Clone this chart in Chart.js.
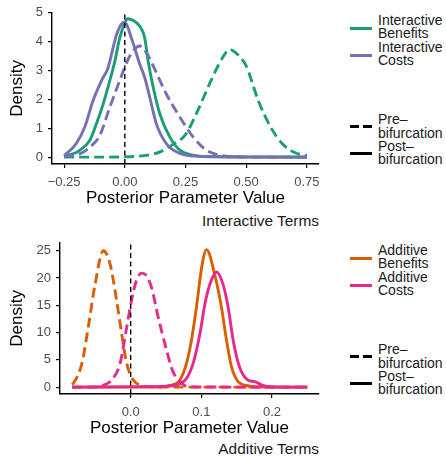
<!DOCTYPE html>
<html>
<head>
<meta charset="utf-8">
<script src="https://cdn.jsdelivr.net/npm/chart.js@4"></script>
<style>
  html, body { margin: 0; padding: 0; background: #fff; }
  body { width: 446px; height: 458px; position: relative; overflow: hidden; font-family: 'Liberation Sans', Arial, Helvetica, sans-serif; }
  .panel { position: absolute; left: 0; }
  .cap { position: absolute; left: 0; width: 319px; text-align: right; font-size: 15.4px; line-height: 18px; color: #1a1a1a; }
  .lt { position: absolute; left: 378px; font-size: 14px; line-height: 13.3px; color: #1a1a1a; white-space: nowrap; }
  .key { position: absolute; left: 350px; width: 22px; height: 3px; }
  .dash { background: repeating-linear-gradient(90deg, #000 0 9px, transparent 9px 13px); }
</style>
</head>
<body>
<div class="panel" style="top:0"><canvas id="c1" width="330" height="209"></canvas></div>
<div class="panel" style="top:230px"><canvas id="c2" width="330" height="209"></canvas></div>

<div class="cap" style="top:211.5px">Interactive Terms</div>
<div class="cap" style="top:439.5px">Additive Terms</div>

<!-- top legend -->
<div class="key" style="top:26.5px;background:#1B9E77"></div>
<div class="lt" style="top:14px">Interactive<br>Benefits</div>
<div class="key" style="top:54px;background:#7570B3"></div>
<div class="lt" style="top:40.7px">Interactive<br>Costs</div>
<div class="key dash" style="top:125px"></div>
<div class="lt" style="top:113.3px">Pre–<br>bifurcation</div>
<div class="key" style="top:152px;background:#000"></div>
<div class="lt" style="top:140px">Post–<br>bifurcation</div>

<!-- bottom legend -->
<div class="key" style="top:256.5px;background:#D95F02"></div>
<div class="lt" style="top:244px">Additive<br>Benefits</div>
<div class="key" style="top:284px;background:#E7298A"></div>
<div class="lt" style="top:270.7px">Additive<br>Costs</div>
<div class="key dash" style="top:355px"></div>
<div class="lt" style="top:343.3px">Pre–<br>bifurcation</div>
<div class="key" style="top:382px;background:#000"></div>
<div class="lt" style="top:370px">Post–<br>bifurcation</div>

<script>
// ---------- Interactive terms (top panel) ----------
const intXTicks = [-0.25, 0, 0.25, 0.5, 0.75];
const intYTicks = [0, 1, 2, 3, 4, 5];

const intBenPostX = [-0.25, -0.2, -0.185, -0.144, -0.117, -0.089, -0.062, -0.041, -0.021, 0.0, 0.012, 0.035, 0.062, 0.082, 0.096, 0.117, 0.144, 0.185, 0.227, 0.28, 0.35, 0.5, 0.75];
const intBenPostY = [0.03, 0.16, 0.24, 0.58, 1.15, 1.84, 2.64, 3.32, 4.12, 4.63, 4.78, 4.72, 4.52, 4.12, 3.32, 2.41, 1.5, 0.7, 0.24, 0.07, 0.02, 0.01, 0.0];

const intBenPreX = [-0.25, -0.1, 0.0, 0.1, 0.15, 0.2, 0.25, 0.3, 0.35, 0.4, 0.432, 0.47, 0.5, 0.55, 0.6, 0.65, 0.7, 0.75];
const intBenPreY = [0.0, 0.0, 0.01, 0.08, 0.2, 0.45, 0.78, 1.6, 2.55, 3.4, 3.72, 3.5, 3.15, 1.95, 1.05, 0.45, 0.16, 0.05];

const intCostPostX = [-0.25, -0.2, -0.165, -0.131, -0.096, -0.069, -0.055, -0.034, -0.014, 0.0, 0.027, 0.062, 0.082, 0.103, 0.13, 0.171, 0.227, 0.3, 0.4, 0.5, 0.75];
const intCostPostY = [0.05, 0.47, 1.04, 1.95, 2.64, 3.09, 3.55, 4.24, 4.6, 4.66, 4.12, 3.2, 2.75, 2.06, 1.15, 0.47, 0.13, 0.03, 0.01, 0.0, 0.0];

const intCostPreX = [-0.25, -0.2, -0.17, -0.13, -0.103, -0.062, -0.021, 0.021, 0.062, 0.09, 0.117, 0.171, 0.227, 0.281, 0.336, 0.391, 0.45, 0.55, 0.75];
const intCostPreY = [0.02, 0.08, 0.18, 0.45, 0.75, 1.72, 2.65, 3.5, 3.84, 3.6, 3.15, 2.18, 1.38, 0.7, 0.24, 0.07, 0.02, 0.0, 0.0];

// ---------- Additive terms (bottom panel) ----------
const addXTicks = [0, 0.1, 0.2];
const addYTicks = [0, 5, 10, 15, 20, 25];

const addBenPreX = [-0.083, -0.081, -0.069, -0.06, -0.0504, -0.0387, -0.029, -0.0198, -0.0127, -0.0056, 0.0037, 0.013, 0.03, 0.1, 0.25];
const addBenPreY = [0.5, 0.7, 4.35, 11.0, 18.8, 25.0, 22.5, 15.8, 9.8, 4.35, 1.3, 0.4, 0.05, 0.0, 0.0];

const addCostPreX = [-0.083, -0.05, -0.039, -0.027, -0.015, -0.0056, 0.0014, 0.008, 0.0155, 0.022, 0.0297, 0.039, 0.0508, 0.06, 0.0696, 0.079, 0.1, 0.25];
const addCostPreY = [0.0, 0.02, 0.3, 1.3, 4.35, 11.0, 16.0, 19.5, 20.9, 20.5, 18.2, 12.8, 6.8, 2.8, 1.1, 0.15, 0.02, 0.0];

const addBenPostX = [-0.083, 0.03, 0.055, 0.0696, 0.079, 0.086, 0.093, 0.1003, 0.1073, 0.119, 0.1285, 0.1356, 0.1427, 0.152, 0.164, 0.18, 0.25];
const addBenPostY = [0.0, 0.02, 0.3, 1.3, 4.35, 8.6, 14.6, 21.8, 25.2, 20.6, 14.6, 8.6, 3.7, 1.0, 0.3, 0.05, 0.0];

const addCostPostX = [-0.083, 0.041, 0.065, 0.079, 0.0884, 0.098, 0.105, 0.112, 0.1214, 0.1308, 0.138, 0.145, 0.154, 0.166, 0.1756, 0.187, 0.2, 0.25];
const addCostPostY = [0.0, 0.1, 0.4, 1.6, 4.35, 9.8, 15.2, 18.8, 21.1, 18.8, 14.6, 8.6, 3.7, 1.3, 1.0, 0.3, 0.05, 0.0];

const vlineX = [0, 0];

// ---------- helpers ----------
const zip = (xs, ys) => xs.map((x, i) => ({ x: x, y: ys[i] }));
const FONT = "'Liberation Sans', Arial, Helvetica, sans-serif";
Chart.defaults.font.family = FONT;

function curve(xs, ys, color, dashed) {
  return {
    data: zip(xs, ys), borderColor: color, borderWidth: 2.9,
    borderDash: dashed ? [10, 5] : [], pointRadius: 0,
    cubicInterpolationMode: 'monotone', fill: false
  };
}

function panel(id, curves, xr, xTicks, xFmt, yr, yTicks, yW) {
  const vline = {
    data: zip(vlineX, [yr[0], yr[1]]), borderColor: '#000', borderWidth: 1.4,
    borderDash: [5, 3.5], pointRadius: 0, fill: false
  };
  new Chart(document.getElementById(id), {
    type: 'line',
    data: { datasets: [vline].concat(curves) },
    options: {
      responsive: false, animation: false, devicePixelRatio: 1,
      layout: { padding: { left: 0, top: 11.5, right: 11, bottom: 0 } },
      plugins: { legend: { display: false }, tooltip: { enabled: false } },
      scales: {
        x: {
          type: 'linear', min: xr[0], max: xr[1],
          afterBuildTicks: s => { s.ticks = xTicks.map(v => ({ value: v })); },
          afterFit: s => { s.height = 45; },
          ticks: { callback: xFmt, color: '#4D4D4D', font: { size: 13 }, padding: 7, maxRotation: 0, autoSkip: false },
          grid: { display: true, drawOnChartArea: false, drawTicks: true, tickLength: 4, color: '#000', lineWidth: 1.2 },
          border: { display: true, color: '#000', width: 1.4 },
          title: { display: true, text: 'Posterior Parameter Value', color: '#000', font: { size: 17 }, padding: { top: 0, bottom: 0 } }
        },
        y: {
          type: 'linear', min: yr[0], max: yr[1],
          afterBuildTicks: s => { s.ticks = yTicks.map(v => ({ value: v })); },
          afterFit: s => { s.width = yW; },
          ticks: { callback: v => String(v), color: '#4D4D4D', font: { size: 13 }, padding: 5, autoSkip: false },
          grid: { display: true, drawOnChartArea: false, drawTicks: true, tickLength: 4, color: '#000', lineWidth: 1.2 },
          border: { display: true, color: '#000', width: 1.4 },
          title: { display: true, text: 'Density', color: '#000', font: { size: 17 }, padding: { top: 7, bottom: 0 } }
        }
      }
    }
  });
}

const fmt2 = v => (v < 0 ? '\u2212' : '') + Math.abs(v).toFixed(2);
const fmt1 = v => (v < 0 ? '\u2212' : '') + Math.abs(v).toFixed(1);

panel('c1', [
  curve(intCostPostX, intCostPostY, '#7570B3', false),
  curve(intCostPreX, intCostPreY, '#7570B3', true),
  curve(intBenPostX, intBenPostY, '#1B9E77', false),
  curve(intBenPreX, intBenPreY, '#1B9E77', true)
], [-0.3, 0.8], intXTicks, fmt2, [-0.2375, 4.9875], intYTicks, 52);

panel('c2', [
  curve(addCostPostX, addCostPostY, '#E7298A', false),
  curve(addCostPreX, addCostPreY, '#E7298A', true),
  curve(addBenPostX, addBenPostY, '#D95F02', false),
  curve(addBenPreX, addBenPreY, '#D95F02', true)
], [-0.1, 0.2665], addXTicks, fmt1, [-1.26, 26.46], addYTicks, 60);
</script>
</body>
</html>
